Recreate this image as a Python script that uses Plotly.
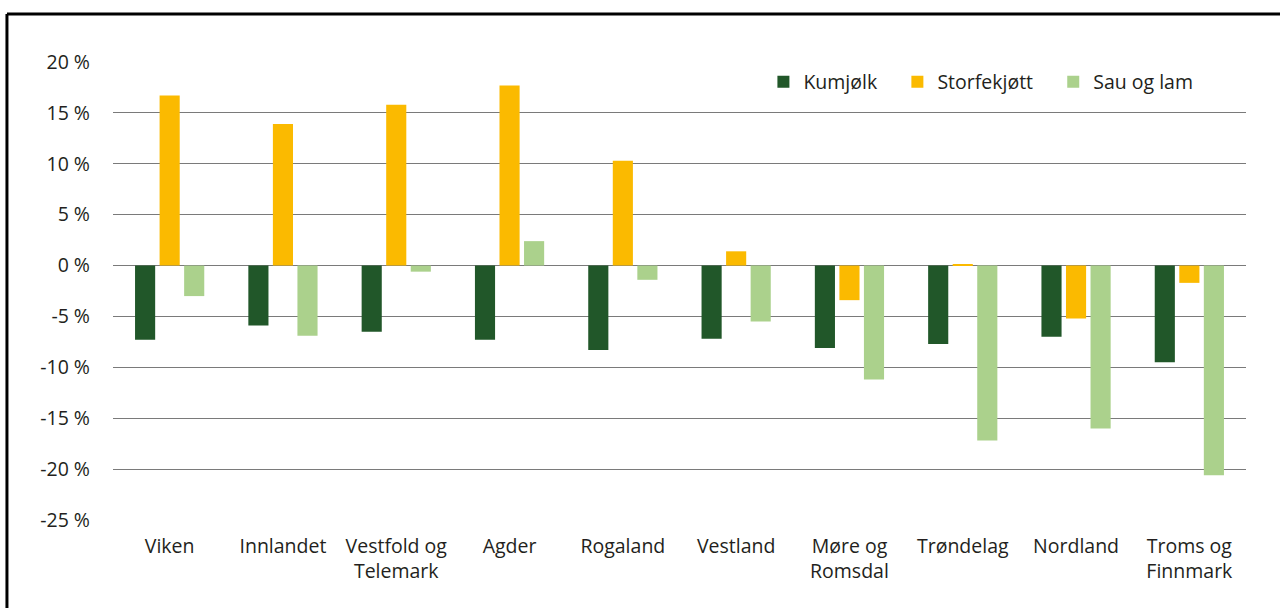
import plotly.graph_objects as go

# ── Data ──────────────────────────────────────────────────────────────────────
regions = [
    "Viken", "Innlandet", "Vestfold og<br>Telemark", "Agder", "Rogaland",
    "Vestland", "Møre og<br>Romsdal", "Trøndelag", "Nordland", "Troms og<br>Finnmark",
]
kumjolk      = [-7.3, -5.9, -6.5, -7.3, -8.3, -7.2, -8.1, -7.7, -7.0, -9.5]
storfekjott  = [16.7, 13.9, 15.8, 17.7, 10.3, 1.4, -3.4, 0.1, -5.2, -1.7]
sau_og_lam   = [-3.0, -6.9, -0.6, 2.4, -1.4, -5.5, -11.2, -17.2, -16.0, -20.6]

tick_vals = [20, 15, 10, 5, 0, -5, -10, -15, -20, -25]
tick_text = ["20 %", "15 %", "10 %", "5 %", "0 %", "-5 %", "-10 %", "-15 %", "-20 %", "-25 %"]

# ── Style ─────────────────────────────────────────────────────────────────────
DARK_GREEN  = "#215729"
YELLOW      = "#fbba00"
LIGHT_GREEN = "#abd18c"
GRID_CLR    = "#7a7a7a"
FONT_CLR    = "#231f20"
FONT        = "'Open Sans', Lato, sans-serif"
FS          = 19.5
PAD         = "\u00a0\u00a0\u00a0"   # extra room after a legend entry

fig = go.Figure()
for name, pad, vals, color in [
    ("Kumjølk", PAD, kumjolk, DARK_GREEN),
    ("Storfekjøtt", PAD, storfekjott, YELLOW),
    ("Sau og lam", "", sau_og_lam, LIGHT_GREEN),
]:
    fig.add_trace(go.Bar(
        x=regions, y=vals, name=name + pad,
        marker=dict(color=color, line=dict(width=0)),
        hovertemplate="%{x}: %{y:.1f} %<extra>" + name + "</extra>",
    ))

fig.update_layout(
    width=1280, height=608,
    paper_bgcolor="white", plot_bgcolor="white",
    font=dict(family=FONT, size=FS, color=FONT_CLR),
    margin=dict(l=113, r=34, t=62, b=88),
    barmode="group", bargap=0.35, bargroupgap=0.18,
    showlegend=True,
    legend=dict(
        orientation="h", x=0.958, xanchor="right", y=0.956, yanchor="middle",
        font=dict(size=FS), bgcolor="rgba(0,0,0,0)", itemclick=False,
    ),
    shapes=[
        # outer frame (top + left visible)
        dict(type="line", xref="paper", yref="paper",
             x0=-0.0936, x1=1.04, y0=1.1048, y1=1.1048,
             line=dict(color="black", width=3)),
        dict(type="line", xref="paper", yref="paper",
             x0=-0.0936, x1=-0.0936, y0=1.1048, y1=-0.25,
             line=dict(color="black", width=3)),
    ],
)
fig.update_xaxes(
    showgrid=False, showline=False, ticks="", tickfont=dict(size=FS),
    ticklabelstandoff=12,
)
fig.update_yaxes(
    range=[-25, 20], tickvals=tick_vals, ticktext=tick_text,
    showgrid=True, gridcolor=GRID_CLR, gridwidth=1.3,
    zeroline=True, zerolinecolor=GRID_CLR, zerolinewidth=1.3,
    showline=False, ticks="", ticklabelstandoff=22,
    tickfont=dict(size=FS),
)

# page has a default body margin; drop it so the figure sits at the window corner
fig.write_html(
    "out.html",
    config={"displayModeBar": False},
    post_script="document.body.style.margin='0';",
)
